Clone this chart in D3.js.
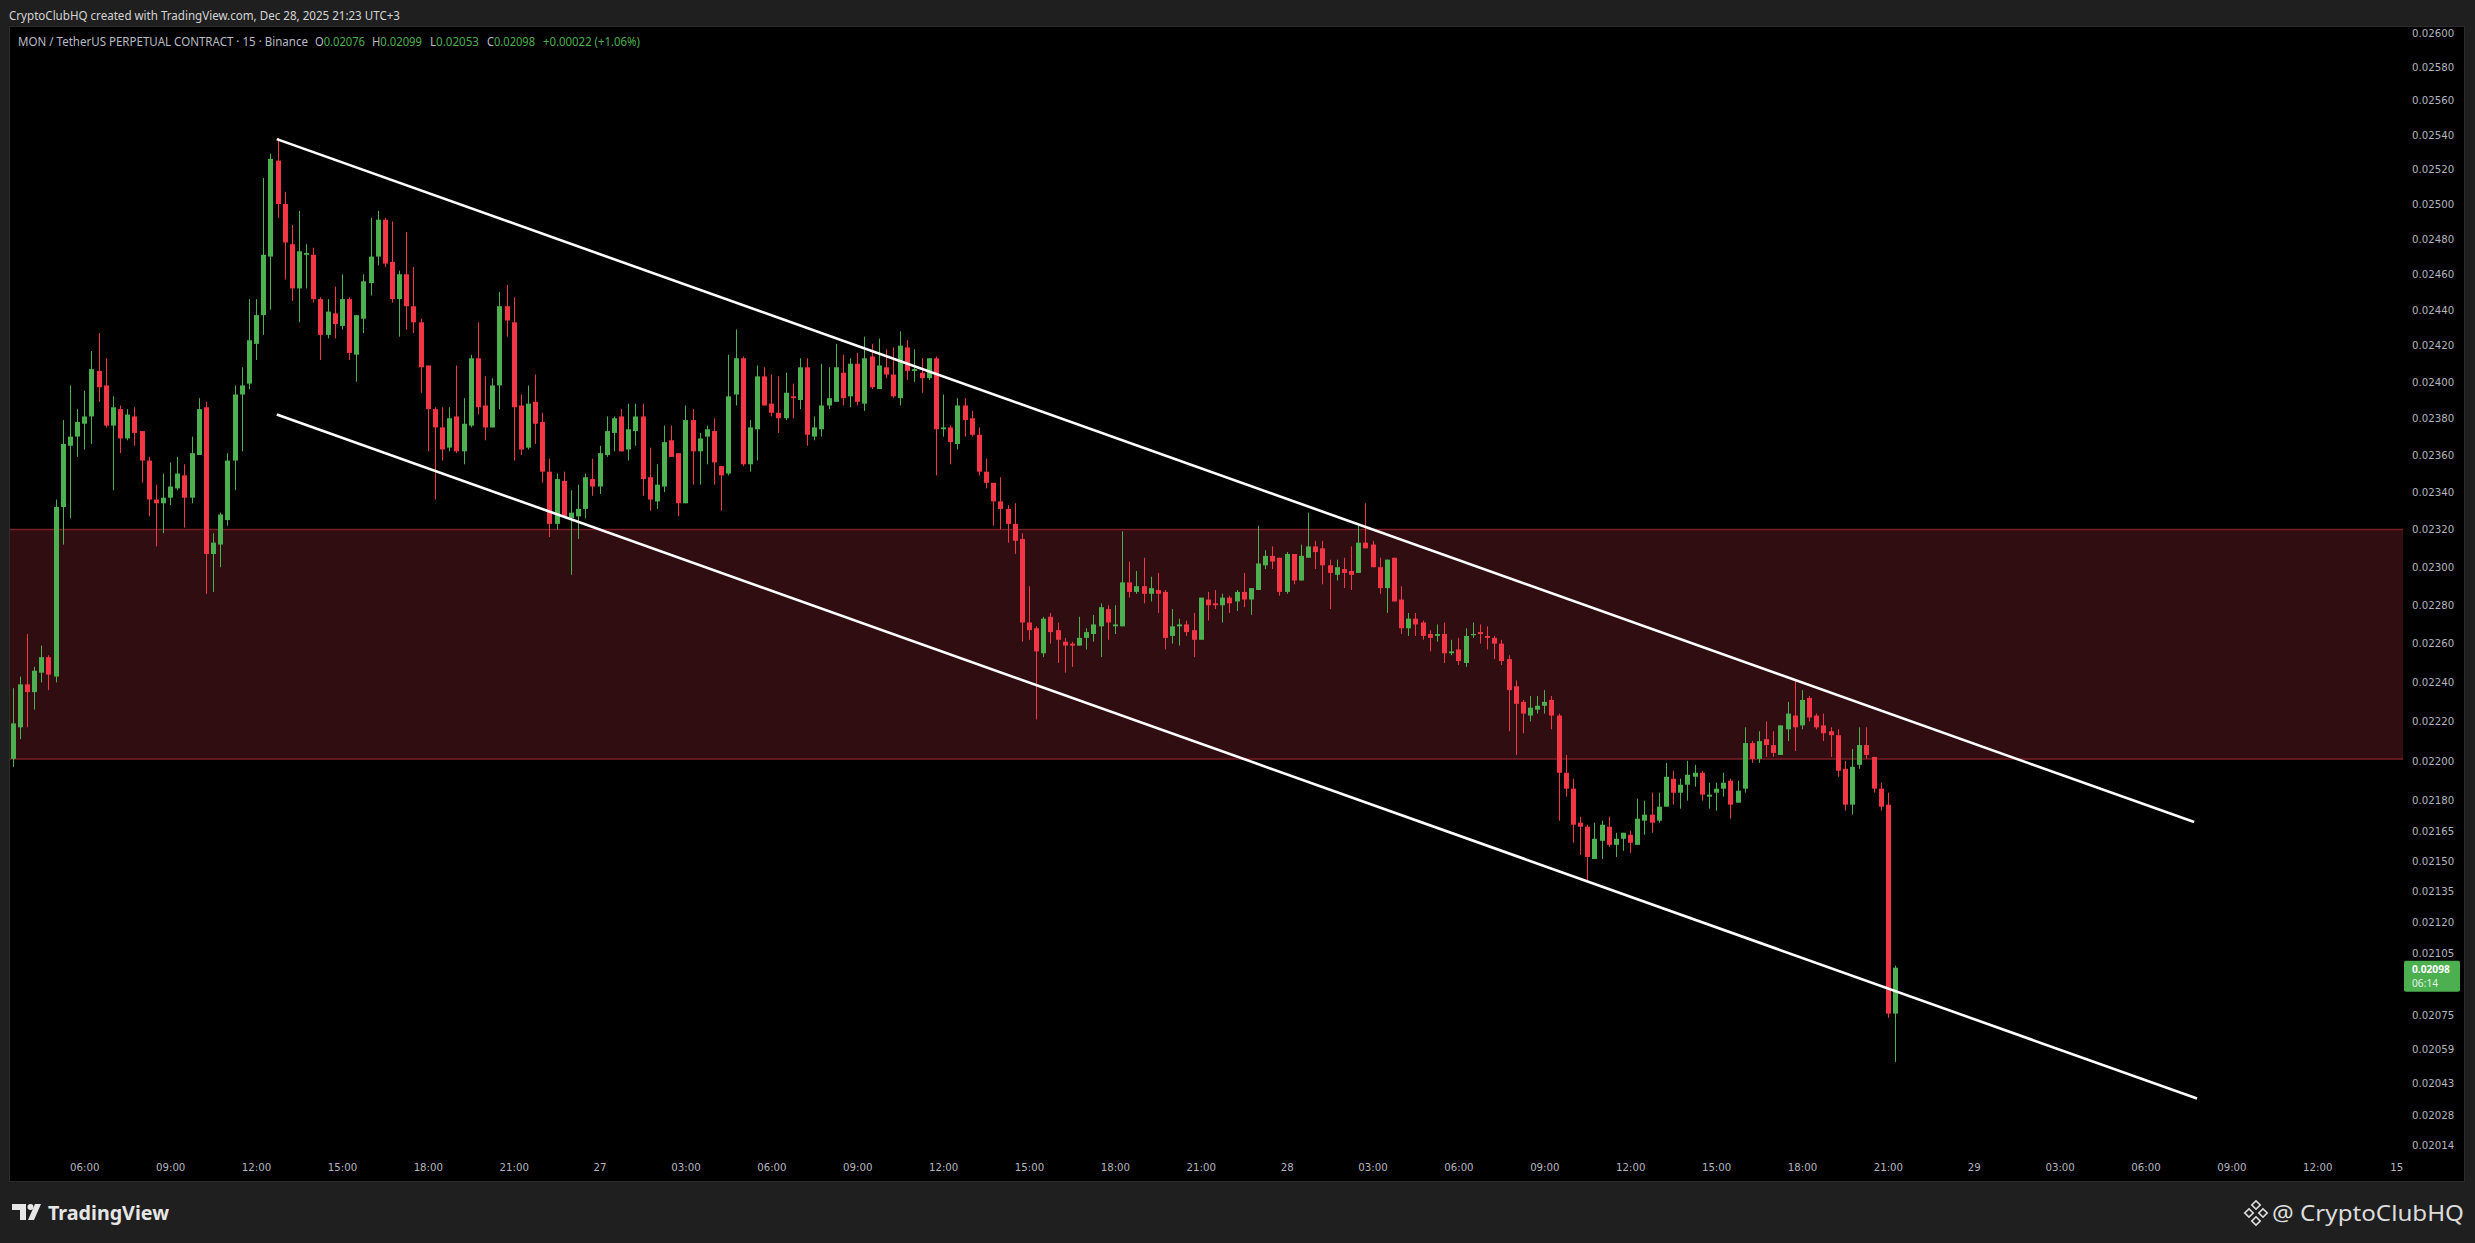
<!DOCTYPE html>
<html>
<head>
<meta charset="utf-8">
<script src="https://cdn.jsdelivr.net/npm/d3@7"></script>
<style>
  html, body { margin: 0; padding: 0; background: #1f1f1f; }
  svg { display: block; }
  text { font-family: "Noto Sans", sans-serif; }
  .axis text { font-family: "DejaVu Sans", sans-serif; font-size: 10.2px; fill: #b2b5be; }
</style>
</head>
<body>
<svg id="chart" width="2475" height="1243"></svg>
<script>
// MON/USDT perp, 15m bars, first bar Dec 26 03:30 (UTC+3 wall clock)
var startTime = Date.UTC(2025, 11, 26, 3, 30);
var stepMs = 15 * 60 * 1000;

var opens = [
  0.02201,0.02217,0.02239,0.02235,0.02245,0.02253,0.02243,0.02332,0.02365,0.02370,0.02377,0.02381,
  0.02406,0.02398,0.02376,0.02385,0.02369,0.02381,0.02373,0.02357,0.02336,0.02334,0.02337,0.02342,
  0.02349,0.02337,0.02360,0.02386,0.02307,0.02312,0.02325,0.02357,0.02393,0.02399,0.02421,0.02437,
  0.02470,0.02525,0.02500,0.02477,0.02452,0.02471,0.02471,0.02446,0.02426,0.02438,
  0.02431,0.02446,0.02415,0.02435,0.02455,0.02470,0.02491,0.02467,0.02446,0.02460,0.02442,0.02433,
  0.02409,0.02385,0.02375,0.02364,0.02381,0.02362,0.02376,0.02413,0.02387,0.02375,0.02398,0.02442,
  0.02433,0.02387,0.02364,0.02389,0.02378,0.02351,0.02323,0.02346,0.02326,0.02327,0.02331,0.02347,
  0.02343,0.02360,0.02372,0.02381,0.02363,0.02373,0.02381,0.02348,0.02335,0.02343,
  0.02368,0.02361,0.02334,0.02379,0.02362,0.02370,0.02373,0.02354,0.02350,0.02393,0.02413,0.02355,
  0.02374,0.02403,0.02388,0.02383,0.02380,0.02392,0.02390,0.02408,0.02370,0.02374,0.02387,0.02389,
  0.02405,0.02392,0.02410,0.02388,0.02414,0.02396,0.02408,0.02404,0.02391,0.02419,0.02406,0.02405,
  0.02402,0.02413,0.02374,0.02375,0.02366,0.02387,0.02380,0.02371,0.02351,0.02345,
  0.02335,0.02331,0.02323,0.02315,0.02271,0.02268,0.02255,0.02274,0.02267,0.02261,0.02260,0.02259,
  0.02263,0.02265,0.02269,0.02278,0.02269,0.02269,0.02292,0.02287,0.02290,0.02286,0.02288,0.02287,
  0.02264,0.02269,0.02270,0.02267,0.02262,0.02283,0.02281,0.02280,0.02284,0.02282,0.02287,0.02283,
  0.02288,0.02301,0.02306,0.02305,0.02287,0.02307,0.02293,0.02305,0.02311,0.02310,
  0.02301,0.02296,0.02299,0.02298,0.02297,0.02313,0.02312,0.02300,0.02289,0.02305,0.02283,0.02268,
  0.02273,0.02271,0.02265,0.02264,0.02265,0.02255,0.02257,0.02250,0.02265,0.02266,0.02264,0.02263,
  0.02260,0.02252,0.02238,0.02230,0.02223,0.02226,0.02228,0.02231,0.02223,0.02194,0.02186,0.02169,
  0.02167,0.02151,0.02160,0.02167,0.02158,0.02161,0.02163,0.02158,0.02170,0.02173,
  0.02170,0.02177,0.02191,0.02184,0.02188,0.02192,0.02194,0.02182,0.02184,0.02186,0.02190,0.02179,
  0.02186,0.02209,0.02201,0.02211,0.02208,0.02203,0.02216,0.02223,0.02218,0.02232,0.02223,0.02218,
  0.02215,0.02213,0.02196,0.02178,0.02198,0.02208,0.02202,0.02186,0.02178,0.02076
];
var highs = [
  0.02237,0.02243,0.02265,0.02248,0.02259,0.02254,0.02336,0.02379,0.02398,0.02385,0.02395,0.02417,
  0.02427,0.02413,0.02392,0.02387,0.02385,0.02386,0.02373,0.02359,0.02344,0.02350,0.02356,0.02359,
  0.02355,0.02370,0.02391,0.02389,0.02318,0.02329,0.02361,0.02398,0.02408,0.02446,0.02446,0.02515,
  0.02529,0.02538,0.02507,0.02488,0.02496,0.02477,0.02475,0.02447,0.02446,0.02453,
  0.02460,0.02447,0.02437,0.02460,0.02492,0.02496,0.02492,0.02490,0.02462,0.02484,0.02464,0.02435,
  0.02409,0.02386,0.02386,0.02386,0.02409,0.02391,0.02415,0.02433,0.02403,0.02402,0.02450,0.02454,
  0.02447,0.02393,0.02398,0.02404,0.02383,0.02358,0.02350,0.02351,0.02341,0.02344,0.02350,0.02358,
  0.02365,0.02381,0.02381,0.02385,0.02388,0.02388,0.02388,0.02364,0.02355,0.02376,
  0.02376,0.02361,0.02387,0.02385,0.02372,0.02376,0.02380,0.02354,0.02415,0.02429,0.02414,0.02379,
  0.02409,0.02408,0.02404,0.02403,0.02405,0.02399,0.02413,0.02413,0.02381,0.02410,0.02408,0.02421,
  0.02415,0.02413,0.02416,0.02425,0.02421,0.02424,0.02418,0.02419,0.02428,0.02423,0.02418,0.02413,
  0.02413,0.02414,0.02393,0.02376,0.02391,0.02391,0.02384,0.02375,0.02358,0.02345,
  0.02348,0.02333,0.02334,0.02318,0.02290,0.02269,0.02274,0.02276,0.02271,0.02263,0.02261,0.02274,
  0.02268,0.02275,0.02281,0.02280,0.02280,0.02319,0.02303,0.02298,0.02305,0.02295,0.02297,0.02288,
  0.02278,0.02273,0.02272,0.02276,0.02284,0.02287,0.02288,0.02286,0.02285,0.02288,0.02297,0.02289,
  0.02322,0.02309,0.02311,0.02305,0.02308,0.02307,0.02312,0.02329,0.02314,0.02314,
  0.02304,0.02304,0.02305,0.02311,0.02322,0.02334,0.02314,0.02305,0.02304,0.02305,0.02290,0.02276,
  0.02276,0.02272,0.02267,0.02270,0.02271,0.02262,0.02263,0.02268,0.02271,0.02270,0.02269,0.02264,
  0.02262,0.02254,0.02241,0.02231,0.02233,0.02233,0.02236,0.02233,0.02224,0.02203,0.02191,0.02172,
  0.02168,0.02169,0.02170,0.02172,0.02164,0.02164,0.02165,0.02181,0.02180,0.02184,
  0.02184,0.02199,0.02195,0.02191,0.02200,0.02198,0.02195,0.02189,0.02189,0.02194,0.02191,0.02190,
  0.02217,0.02210,0.02215,0.02220,0.02215,0.02218,0.02230,0.02241,0.02236,0.02233,0.02224,0.02224,
  0.02217,0.02216,0.02200,0.02206,0.02217,0.02217,0.02202,0.02189,0.02184,0.02099
];
var lows = [
  0.02197,0.02211,0.02217,0.02226,0.02240,0.02236,0.02240,0.02312,0.02326,0.02359,0.02363,0.02366,
  0.02389,0.02375,0.02341,0.02361,0.02368,0.02365,0.02345,0.02327,0.02311,0.02318,0.02333,0.02341,
  0.02321,0.02334,0.02360,0.02286,0.02287,0.02300,0.02322,0.02341,0.02362,0.02396,0.02412,0.02426,
  0.02440,0.02492,0.02457,0.02445,0.02433,0.02452,0.02444,0.02412,0.02424,0.02424,
  0.02429,0.02412,0.02400,0.02427,0.02448,0.02465,0.02464,0.02444,0.02425,0.02429,0.02427,0.02394,
  0.02362,0.02336,0.02357,0.02362,0.02361,0.02355,0.02375,0.02382,0.02368,0.02375,0.02385,0.02425,
  0.02357,0.02360,0.02363,0.02366,0.02345,0.02316,0.02320,0.02327,0.02296,0.02315,0.02326,0.02338,
  0.02339,0.02359,0.02362,0.02362,0.02357,0.02365,0.02338,0.02330,0.02331,0.02340,
  0.02359,0.02327,0.02334,0.02344,0.02344,0.02355,0.02344,0.02330,0.02349,0.02387,0.02354,0.02351,
  0.02357,0.02387,0.02381,0.02372,0.02379,0.02380,0.02385,0.02365,0.02368,0.02370,0.02385,0.02389,
  0.02387,0.02386,0.02387,0.02384,0.02396,0.02396,0.02402,0.02391,0.02387,0.02401,0.02400,0.02394,
  0.02401,0.02349,0.02370,0.02355,0.02363,0.02370,0.02370,0.02349,0.02342,0.02322,
  0.02320,0.02313,0.02307,0.02261,0.02262,0.02221,0.02253,0.02260,0.02250,0.02245,0.02248,0.02259,
  0.02257,0.02261,0.02253,0.02262,0.02265,0.02269,0.02284,0.02286,0.02281,0.02282,0.02276,0.02257,
  0.02260,0.02259,0.02264,0.02253,0.02262,0.02272,0.02278,0.02271,0.02276,0.02277,0.02279,0.02275,
  0.02288,0.02299,0.02299,0.02285,0.02286,0.02291,0.02293,0.02305,0.02299,0.02291,
  0.02278,0.02293,0.02289,0.02288,0.02297,0.02310,0.02300,0.02286,0.02276,0.02282,0.02265,0.02264,
  0.02264,0.02262,0.02256,0.02261,0.02250,0.02254,0.02249,0.02248,0.02263,0.02260,0.02257,0.02252,
  0.02249,0.02215,0.02203,0.02214,0.02220,0.02224,0.02224,0.02216,0.02170,0.02182,0.02159,0.02153,
  0.02140,0.02151,0.02151,0.02157,0.02152,0.02155,0.02154,0.02158,0.02163,0.02164,
  0.02169,0.02177,0.02178,0.02176,0.02180,0.02187,0.02180,0.02176,0.02175,0.02182,0.02171,0.02179,
  0.02184,0.02199,0.02199,0.02202,0.02202,0.02203,0.02210,0.02205,0.02216,0.02220,0.02216,0.02210,
  0.02202,0.02192,0.02175,0.02173,0.02196,0.02201,0.02184,0.02175,0.02074,0.02053
];
var closes = [
  0.02219,0.02239,0.02235,0.02246,0.02253,0.02244,0.02332,0.02366,0.02370,0.02378,0.02381,0.02407,
  0.02397,0.02376,0.02386,0.02369,0.02382,0.02372,0.02357,0.02336,0.02334,0.02337,0.02343,0.02350,
  0.02337,0.02361,0.02385,0.02307,0.02313,0.02328,0.02357,0.02393,0.02398,0.02423,0.02437,0.02471,
  0.02526,0.02500,0.02478,0.02452,0.02473,0.02472,0.02446,0.02426,0.02439,0.02432,
  0.02446,0.02416,0.02437,0.02456,0.02470,0.02491,0.02466,0.02446,0.02460,0.02442,0.02433,0.02408,
  0.02385,0.02375,0.02363,0.02380,0.02362,0.02377,0.02413,0.02386,0.02375,0.02398,0.02442,0.02434,
  0.02386,0.02363,0.02388,0.02377,0.02351,0.02323,0.02347,0.02327,0.02329,0.02331,0.02348,0.02343,
  0.02361,0.02373,0.02380,0.02362,0.02374,0.02381,0.02347,0.02336,0.02344,0.02367,
  0.02359,0.02334,0.02379,0.02362,0.02369,0.02374,0.02356,0.02349,0.02392,0.02413,0.02355,0.02375,
  0.02403,0.02387,0.02383,0.02380,0.02394,0.02391,0.02408,0.02371,0.02375,0.02387,0.02391,0.02408,
  0.02391,0.02410,0.02389,0.02413,0.02397,0.02409,0.02404,0.02392,0.02420,0.02406,0.02407,0.02402,
  0.02413,0.02374,0.02375,0.02367,0.02387,0.02379,0.02371,0.02351,0.02345,0.02335,
  0.02331,0.02323,0.02314,0.02271,0.02267,0.02256,0.02273,0.02266,0.02262,0.02259,0.02259,0.02263,
  0.02266,0.02270,0.02279,0.02271,0.02270,0.02292,0.02287,0.02290,0.02286,0.02289,0.02286,0.02263,
  0.02269,0.02270,0.02266,0.02262,0.02284,0.02280,0.02280,0.02284,0.02281,0.02287,0.02283,0.02289,
  0.02302,0.02306,0.02303,0.02287,0.02307,0.02293,0.02306,0.02311,0.02308,0.02301,
  0.02297,0.02300,0.02297,0.02296,0.02313,0.02310,0.02300,0.02289,0.02304,0.02282,0.02268,0.02273,
  0.02270,0.02264,0.02263,0.02265,0.02255,0.02256,0.02251,0.02264,0.02265,0.02265,0.02263,0.02260,
  0.02251,0.02236,0.02229,0.02224,0.02227,0.02228,0.02230,0.02223,0.02194,0.02186,0.02168,0.02167,
  0.02152,0.02161,0.02168,0.02158,0.02161,0.02164,0.02159,0.02171,0.02173,0.02169,
  0.02177,0.02192,0.02184,0.02188,0.02193,0.02194,0.02183,0.02183,0.02186,0.02189,0.02178,0.02185,
  0.02209,0.02201,0.02210,0.02208,0.02204,0.02218,0.02224,0.02217,0.02231,0.02222,0.02217,0.02214,
  0.02213,0.02195,0.02178,0.02197,0.02208,0.02203,0.02186,0.02177,0.02076,0.02098
];

var priceTicks = [0.026, 0.0258, 0.0256, 0.0254, 0.0252, 0.025, 0.0248, 0.0246, 0.0244, 0.0242,
  0.024, 0.0238, 0.0236, 0.0234, 0.0232, 0.023, 0.0228, 0.0226, 0.0224, 0.0222, 0.022, 0.0218,
  0.02165, 0.0215, 0.02135, 0.0212, 0.02105, 0.02075, 0.02059, 0.02043, 0.02028, 0.02014];

// resistance zone (top, bottom) and the two channel lines as [bar number, price]
var zone = [0.02320, 0.02201];
var channelUpper = [[36.9, 0.025375], [304.8, 0.021693]];
var channelLower = [[36.9, 0.023821], [305.2, 0.020359]];

var legendText = "MON / TetherUS PERPETUAL CONTRACT · 15 · Binance";
var ohlcLabels = ["O", "H", "L", "C"];
var changeText = "+0.00022 (+1.06%)";
var countdown = "06:14";

// ---------- layout ----------
var W = 2475, H = 1243;
var plotL = 10, plotR = 2403, plotT = 27, plotB = 1153;
var bar0X = 12.7, barStep = 7.157;
var green = "#4caf50", red = "#f23645";

var svg = d3.select("#chart");

var x = d3.scaleUtc()
  .domain([new Date(startTime), new Date(startTime + 263 * stepMs)])
  .range([bar0X, bar0X + 263 * barStep]);
var y = d3.scaleLog().domain([0.026, 0.02014]).range([33.1, 1145.7]);

var barTime = i => new Date(startTime + i * stepMs);

// background pieces
svg.append("rect").attr("width", W).attr("height", H).attr("fill", "#1f1f1f");
svg.append("rect")
  .attr("x", 9.5).attr("y", 26.5).attr("width", 2455).attr("height", 1155)
  .attr("fill", "#000").attr("stroke", "#2c2c2c");

svg.append("text")
  .attr("x", 9).attr("y", 19.5)
  .attr("font-size", 12.5).attr("fill", "#d4d4d4")
  .attr("textLength", 391).attr("lengthAdjust", "spacingAndGlyphs")
  .text("CryptoClubHQ created with TradingView.com, Dec 28, 2025 21:23 UTC+3");

svg.append("defs").append("clipPath").attr("id", "plotclip")
  .append("rect").attr("x", plotL).attr("y", plotT).attr("width", plotR - plotL).attr("height", plotB - plotT);

var plot = svg.append("g").attr("clip-path", "url(#plotclip)");

// zone
plot.append("rect")
  .attr("x", plotL).attr("width", plotR - plotL)
  .attr("y", y(zone[0])).attr("height", y(zone[1]) - y(zone[0]))
  .attr("fill", "#2f0d11");
plot.selectAll("line.zone").data(zone).enter().append("line")
  .attr("class", "zone")
  .attr("x1", plotL).attr("x2", plotR)
  .attr("y1", d => y(d)).attr("y2", d => y(d))
  .attr("stroke", "#7a1f26").attr("stroke-width", 1.5);

// candles
var bars = d3.range(opens.length);
var g = plot.selectAll("g.bar").data(bars).enter().append("g").attr("class", "bar");
g.append("line")
  .attr("x1", i => Math.round(x(barTime(i))) + 0.5)
  .attr("x2", i => Math.round(x(barTime(i))) + 0.5)
  .attr("y1", i => y(highs[i])).attr("y2", i => y(lows[i]))
  .attr("stroke", i => closes[i] >= opens[i] ? green : red)
  .attr("stroke-width", 1);
g.append("rect")
  .attr("x", i => Math.round(x(barTime(i))) - 2)
  .attr("width", 5)
  .attr("y", i => y(Math.max(opens[i], closes[i])))
  .attr("height", i => Math.max(1.2, Math.abs(y(opens[i]) - y(closes[i]))))
  .attr("fill", i => closes[i] >= opens[i] ? green : red);

// channel
var line = d3.line().x(d => x(barTime(d[0]))).y(d => y(d[1]));
[channelUpper, channelLower].forEach(function (c) {
  plot.append("path").attr("d", line(c))
    .attr("fill", "none").attr("stroke", "#ffffff").attr("stroke-width", 2.6);
});

// price axis
var yAxis = svg.append("g").attr("class", "axis")
  .attr("transform", "translate(" + plotR + ",0)")
  .call(d3.axisRight(y).tickValues(priceTicks).tickSize(0).tickPadding(9).tickFormat(d3.format(".5f")));
yAxis.select(".domain").remove();

// time axis
var timeTicks = d3.utcHour.every(3).range(new Date(Date.UTC(2025, 11, 26, 6)), new Date(Date.UTC(2025, 11, 29, 15, 1)));
var lastTick = timeTicks[timeTicks.length - 1];
var xAxis = svg.append("g").attr("class", "axis")
  .attr("transform", "translate(0," + plotB + ")")
  .call(d3.axisBottom(x).tickValues(timeTicks).tickSize(0).tickPadding(11)
    .tickFormat(function (d) {
      if (+d === +lastTick) return d3.utcFormat("%-H")(d);
      if (d.getUTCHours() === 0) return d3.utcFormat("%-d")(d);
      return d3.utcFormat("%H:%M")(d);
    }));
xAxis.select(".domain").remove();
xAxis.selectAll(".tick").filter(d => +d === +lastTick).select("text").attr("dx", -7);

// legend row
var last = opens.length - 1;
var legend = svg.append("g").attr("font-size", 12);
legend.append("text").attr("x", 18).attr("y", 46).attr("fill", "#b8bcc4")
  .attr("textLength", 290).attr("lengthAdjust", "spacingAndGlyphs").text(legendText);
var ohlcVals = [opens[last], highs[last], lows[last], closes[last]];
var ohlcX = [315, 372, 430, 487];
var ohlcLen = [50, 50, 49, 48];
ohlcLabels.forEach(function (lab, k) {
  var t = legend.append("text").attr("x", ohlcX[k]).attr("y", 46)
    .attr("textLength", ohlcLen[k]).attr("lengthAdjust", "spacingAndGlyphs");
  t.append("tspan").attr("fill", "#b8bcc4").text(lab);
  t.append("tspan").attr("fill", green).text(d3.format(".5f")(ohlcVals[k]));
});
legend.append("text").attr("x", 543).attr("y", 46).attr("fill", green)
  .attr("textLength", 97).attr("lengthAdjust", "spacingAndGlyphs").text(changeText);

// last price tag
var ly = y(closes[last]);
svg.append("rect").attr("x", 2404).attr("y", ly - 7).attr("width", 56).attr("height", 31)
  .attr("rx", 2).attr("fill", green);
svg.append("text").attr("x", 2412).attr("y", ly + 5)
  .attr("font-family", "DejaVu Sans").attr("font-size", 10.2).attr("font-weight", "bold")
  .attr("fill", "#fff").text(d3.format(".5f")(closes[last]));
svg.append("text").attr("x", 2412).attr("y", ly + 19)
  .attr("font-family", "DejaVu Sans").attr("font-size", 10.2)
  .attr("fill", "#e3f3e4").text(countdown);

// footer
var foot = svg.append("g");
foot.append("path")
  .attr("d", "M12,1204 h14 v16 h-6 v-10 h-8 z")
  .attr("fill", "#e6e6e6");
foot.append("circle").attr("cx", 30.5).attr("cy", 1207).attr("r", 3).attr("fill", "#e6e6e6");
foot.append("path").attr("d", "M35,1204 h6 l-7,16 h-6 z").attr("fill", "#e6e6e6");
foot.append("text").attr("x", 48).attr("y", 1220)
  .attr("font-family", "Inter, 'Noto Sans', sans-serif").attr("font-weight", 700)
  .attr("font-size", 20).attr("fill", "#e6e6e6")
  .attr("textLength", 121).attr("lengthAdjust", "spacingAndGlyphs").text("TradingView");

var icon = foot.append("g").attr("transform", "translate(2256,1213)").attr("fill", "none")
  .attr("stroke", "#dcdcdc").attr("stroke-width", 1.6);
[[0, -8], [-7, 0], [7, 0], [0, 8]].forEach(function (p) {
  icon.append("rect").attr("x", p[0] - 3).attr("y", p[1] - 3).attr("width", 6).attr("height", 6)
    .attr("transform", "rotate(45," + p[0] + "," + p[1] + ")");
});
foot.append("text").attr("x", 2272).attr("y", 1221)
  .attr("font-size", 22).attr("fill", "#dcdcdc")
  .attr("textLength", 192).attr("lengthAdjust", "spacingAndGlyphs").text("@ CryptoClubHQ");
</script>
</body>
</html>
